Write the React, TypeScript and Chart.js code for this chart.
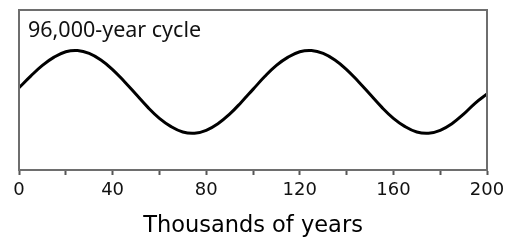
import React, { useEffect, useRef } from "react";
import { Chart, registerables } from "chart.js";

Chart.register(...registerables);

const xValues = [0, 5, 10, 15, 20, 25, 30, 35, 40, 45, 50, 55, 60, 65, 70, 75, 80, 85, 90, 95, 100,
  105, 110, 115, 120, 125, 130, 135, 140, 145, 150, 155, 160, 165, 170, 175, 180, 185, 190, 195, 200];
const yValues = [0.1, 0.38, 0.64, 0.84, 0.97, 1.0, 0.93, 0.77, 0.54, 0.25, -0.06, -0.37, -0.64, -0.84, -0.97, -1.0, -0.93, -0.77, -0.54, -0.25, 0.06,
  0.37, 0.64, 0.84, 0.97, 1.0, 0.93, 0.77, 0.54, 0.25, -0.06, -0.37, -0.64, -0.84, -0.97, -1.0, -0.93, -0.77, -0.54, -0.27, -0.05];
const labeledTicks = [0, 40, 80, 120, 160, 200];
const cycleLabel = "96,000-year cycle";
const xTitle = "Thousands of years";

export default function App() {
  const ref = useRef<HTMLCanvasElement>(null);
  useEffect(() => {
    document.body.style.margin = "0";
    const canvas = ref.current!;
    const boxPlugin = {
      id: "boxAndLabel",
      afterDraw(chart: any) {
        const { ctx, chartArea: a } = chart;
        ctx.save();
        ctx.strokeStyle = "#6e6e6e";
        ctx.lineWidth = 2;
        ctx.beginPath();
        ctx.moveTo(a.left, a.bottom);
        ctx.lineTo(a.left, a.top);
        ctx.lineTo(a.right, a.top);
        ctx.lineTo(a.right, a.bottom);
        ctx.stroke();
        ctx.fillStyle = "#111";
        ctx.font = "21.5px 'Noto Sans'";
        ctx.textBaseline = "alphabetic";
        ctx.textAlign = "left";
        ctx.fillText(cycleLabel, 28, 36.5);
        ctx.restore();
      },
    };
    const chart = new Chart(canvas, {
      type: "line",
      data: {
        datasets: [
          {
            data: xValues.map((x, i) => ({ x, y: yValues[i] })),
            borderColor: "#000",
            borderWidth: 3,
            pointRadius: 0,
            tension: 0.4,
            fill: false,
          },
        ],
      },
      options: {
        animation: false,
        responsive: false,
        maintainAspectRatio: false,
        layout: { padding: { left: 19, right: 20, top: 10, bottom: 0 } },
        plugins: { legend: { display: false }, tooltip: { enabled: false } },
        scales: {
          x: {
            type: "linear",
            min: 0,
            max: 200,
            afterFit(scale: any) {
              scale.height = 70;
              scale.paddingLeft = 0;
              scale.paddingRight = 0;
            },
            ticks: {
              stepSize: 20,
              autoSkip: false,
              maxRotation: 0,
              padding: 5,
              color: "#111",
              font: { family: "'DejaVu Sans'", size: 18 },
              callback: (v: any) => (labeledTicks.includes(v) ? String(v) : ""),
            },
            grid: {
              drawOnChartArea: false,
              drawTicks: true,
              tickLength: 5,
              tickColor: "#555",
              tickWidth: 2,
            },
            border: { display: true, color: "#6e6e6e", width: 2 },
            title: {
              display: true,
              text: xTitle,
              color: "#000",
              font: { family: "'DejaVu Sans'", size: 22.5 },
              padding: { top: 6, bottom: 0 },
            },
          },
          y: {
            display: false,
            min: -1.89,
            max: 1.98,
          },
        },
      },
      plugins: [boxPlugin],
    } as any);
    return () => chart.destroy();
  }, []);
  return (
    <div style={{ position: "relative", width: 507, height: 240 }}>
      <canvas ref={ref} width={507} height={240} style={{ width: 507, height: 240, display: "block" }} />
    </div>
  );
}
